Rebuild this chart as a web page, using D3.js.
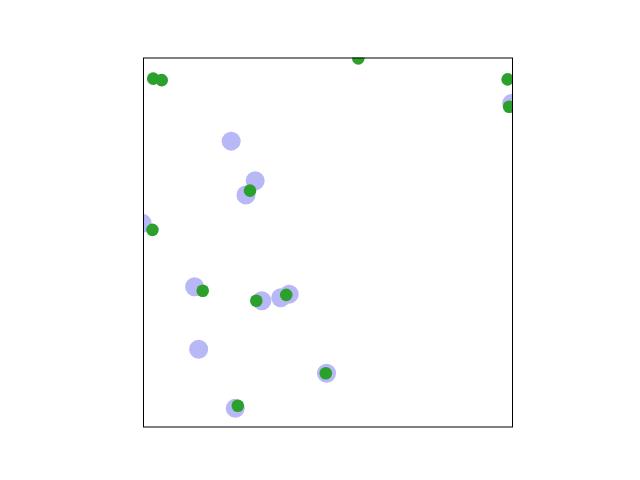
<!DOCTYPE html>
<html><head><meta charset="utf-8">
<script src="https://cdn.jsdelivr.net/npm/d3@7"></script>
<style>body{margin:0;background:#fff}</style>
</head><body>
<script>
const blueX = [0.238,0.303,0.278,-0.003,0.139,0.321,0.372,0.395,0.150,0.496,0.249,0.997];
const blueY = [0.774,0.667,0.628,0.552,0.380,0.342,0.350,0.360,0.211,0.146,0.051,0.876];
const greenX = [0.027,0.050,0.582,0.986,0.990,0.289,0.025,0.161,0.306,0.387,0.494,0.256];
const greenY = [0.943,0.939,0.998,0.941,0.867,0.640,0.534,0.369,0.342,0.358,0.146,0.058];

const W=640,H=480;
const L=143.2,R=512.8,T=57.6,B=427.2;
const svg=d3.select("body").append("svg").attr("width",W).attr("height",H);
const x=d3.scaleLinear().domain([0,1]).range([L,R]);
const y=d3.scaleLinear().domain([0,1]).range([B,T]);
svg.append("clipPath").attr("id","clip").append("rect")
  .attr("x",L).attr("y",T).attr("width",R-L).attr("height",B-T);
const g=svg.append("g").attr("clip-path","url(#clip)");
g.selectAll("circle.b").data(blueX.map((v,i)=>[v,blueY[i]])).join("circle")
  .attr("class","b").attr("cx",d=>x(d[0])).attr("cy",d=>y(d[1])).attr("r",9.5)
  .attr("fill","#b8b8f7");
g.selectAll("circle.g").data(greenX.map((v,i)=>[v,greenY[i]])).join("circle")
  .attr("class","g").attr("cx",d=>x(d[0])).attr("cy",d=>y(d[1])).attr("r",6.3)
  .attr("fill","#2ca02c");
svg.append("rect").attr("x",143.5).attr("y",58).attr("width",369).attr("height",369)
  .attr("fill","none").attr("stroke","#000").attr("stroke-width",1);
</script>
</body></html>
